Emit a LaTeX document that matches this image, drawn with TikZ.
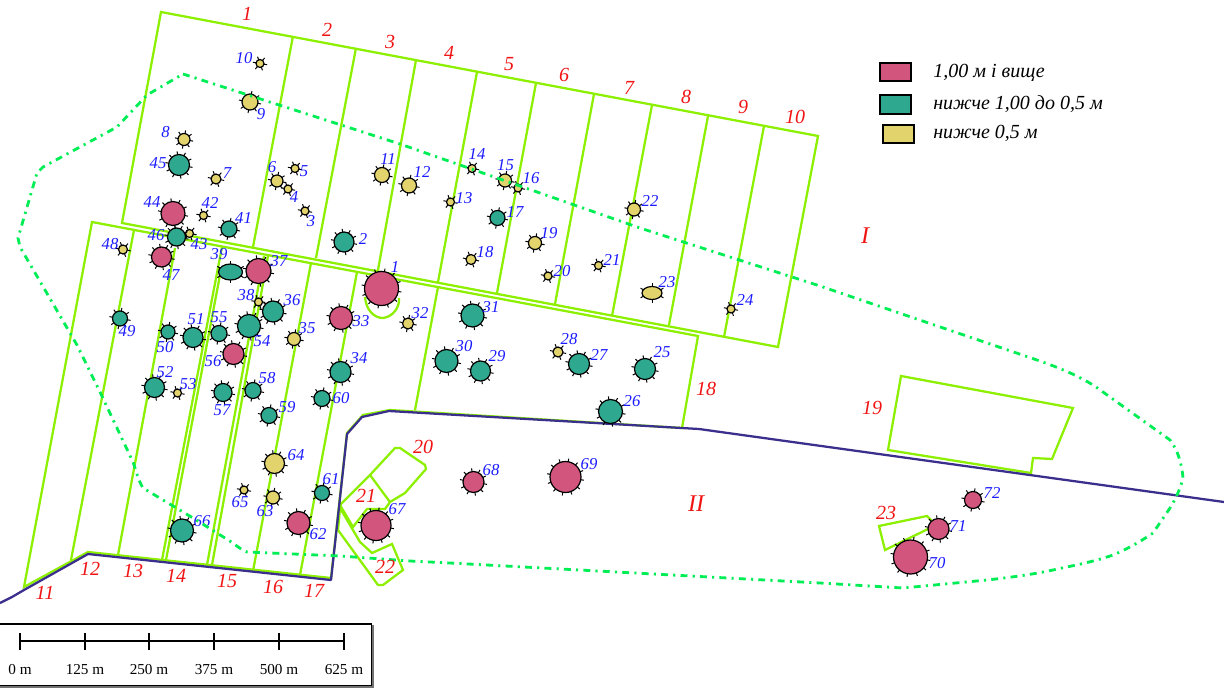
\documentclass[tikz,border=0pt]{standalone}
\usepackage{fontspec}
\setmainfont{Liberation Serif}
\usetikzlibrary{shapes.geometric}
\definecolor{pinkT}{HTML}{D1557D}
\definecolor{tealT}{HTML}{2EA88E}
\definecolor{yelT}{HTML}{E3D36C}
\definecolor{fieldG}{HTML}{8CF000}
\definecolor{bndG}{HTML}{00EE55}
\definecolor{roadB}{HTML}{3A2F8C}
\definecolor{lblB}{HTML}{1A1AFF}
\definecolor{lblR}{HTML}{F01414}
\tikzset{
  x=0.75pt,y=-0.75pt,
  fieldline/.style={draw=fieldG,line width=1.7pt,line join=miter},
  boundary/.style={draw=bndG,line width=2.1pt,dash pattern=on 5.2pt off 3.9pt on 1.6pt off 3.9pt},
  road/.style={draw=roadB,line width=1.7pt,line join=round},
  treemark/.style={circle,draw=black,line width=0.9pt,inner sep=0pt,outer sep=0pt},
  ovalmark/.style={ellipse,draw=black,line width=0.9pt,inner sep=0pt,outer sep=0pt},
  tick/.style={draw=black,line width=0.75pt},
  numlabel/.style={text=lblB,font=\itshape\fontsize{12.5}{13}\selectfont,inner sep=0pt},
  fieldlabel/.style={text=lblR,font=\itshape\fontsize{15}{15}\selectfont,inner sep=0pt},
  legendbox/.style={draw=black,line width=1pt,anchor=north west,inner sep=0pt,outer sep=0pt},
  legendtext/.style={anchor=west,inner sep=0pt,font=\itshape\fontsize{15}{15}\selectfont},
  scalelabel/.style={font=\fontsize{11.4}{12}\selectfont,inner sep=0pt},
}
\newcommand\tickset[3]{% x y r
  \pgfmathsetmacro\tkstep{#3<5.5?60:(#3<9?45:(#3<13?36:30))}
  \pgfmathsetmacro\tksecond{\tkstep+10}
  \foreach \a in {10,\tksecond,...,369}{
    \draw[tick] (#1,#2) ++(\a:#3) -- ++(\a:3.2);
  }
}
\newcommand\treeM[7]{% num x y r colour lx ly
  \tickset{#2}{#3}{#4}
  \pgfmathsetlengthmacro\tkd{1.5pt*#4}
  \node[treemark,fill=#5,minimum size=\tkd] (t#1) at (#2,#3) {};
  \node[numlabel] (n#1) at (#6,#7) {#1};
}
\newcommand\ovalM[8]{% num x y rx ry colour lx ly
  \foreach \a in {30,90,...,389}{
    \draw[tick] (#2,#3) ++(\a:#4 and #5) -- ++(\a:3.2);
  }
  \pgfmathsetlengthmacro\tkw{1.5pt*#4}
  \pgfmathsetlengthmacro\tkh{1.5pt*#5}
  \node[ovalmark,fill=#6,minimum width=\tkw,minimum height=\tkh] (t#1) at (#2,#3) {};
  \node[numlabel] (n#1) at (#7,#8) {#1};
}
\begin{document}
\begin{tikzpicture}
\useasboundingbox[fill=white] (0,0) rectangle (1224,688);
% upper block
\draw[fieldline] (161,12) -- (818,136) -- (778,347) -- (122,223) -- cycle;
\foreach \xa/\ya/\xb/\yb in {293/36/253/247,356/48/316/258,416/60/378/270,477/72/438/282,536/83/497/293,594/94/555/304,652/105/612/316,708/116/669/325,764/126/724/337}{
  \draw[fieldline] (\xa,\ya) -- (\xb,\yb);
}
% lower block
\draw[fieldline] (347,433) -- (363,415) -- (390,410) -- (682,428) -- (698,336) -- (92,222) -- (24,587) -- (88,552) -- (331,578) -- cycle;
\foreach \xa/\ya/\xb/\yb in {134/230/71/560,175/248/118/555,222/247/162/560,220/275/166/560,264/256/207/565,268/256/212/565,311/263/253/571,357/272/300/575,438/287/415/410}{
  \draw[fieldline] (\xa,\ya) -- (\xb,\yb);
}
% small plots
\draw[fieldline] (888,450) -- (901,376) -- (1073,408) -- (1052,459) -- (1033,458) -- (1031,473) -- cycle;
\draw[fieldline] (879,526) -- (927,516) -- (934,523) -- (928,529) -- (885,550) -- cycle;
\draw[fieldline] (340,505) -- (370,475) -- (395,448) -- (400,448) -- (425,465) -- (426,469) -- (405,493) -- (390,502) -- (385,509) -- (367,509) -- (353,527) -- cycle;
\draw[fieldline] (370,475) -- (390,502);
\draw[fieldline] (340,508) -- (360,542) -- (372,553) -- (392,544) -- (403,570) -- (383,585) -- (378,585) -- (338,530) -- (340,508);
\draw[fieldline] (365,297) .. controls (366,310) and (374,318) .. (383,318) .. controls (392,317) and (400,308) .. (399,298);
% road
\draw[road] (0,603) -- (12,597) -- (24,590) -- (88,554) -- (331,580) -- (347,434) -- (362,417) -- (389,411) -- (699,429) -- (1224,502);
% trees
\treeM{1}{381.5}{288.5}{17}{pinkT}{395}{267}
\treeM{2}{344}{242}{10}{tealT}{363}{239}
\treeM{3}{305}{211}{4}{yelT}{311}{221}
\treeM{4}{288}{189}{4}{yelT}{294}{197}
\treeM{5}{295}{168.5}{4}{yelT}{304}{171}
\treeM{6}{277}{181}{6}{yelT}{272}{167}
\treeM{7}{216}{179}{5}{yelT}{227}{173}
\treeM{8}{184}{139.5}{6}{yelT}{165.5}{132}
\treeM{9}{250}{102}{8}{yelT}{261}{114}
\treeM{10}{260}{63.5}{4}{yelT}{244}{58}
\treeM{11}{382}{175}{7.5}{yelT}{388}{159}
\treeM{12}{409}{185.5}{7.5}{yelT}{422}{172}
\treeM{13}{450.5}{202}{4}{yelT}{464}{198}
\treeM{14}{472}{168.5}{4}{yelT}{477}{154}
\treeM{15}{505}{180.5}{6.5}{yelT}{505.5}{165}
\treeM{16}{518}{188}{4}{yelT}{531}{178}
\treeM{17}{497.5}{218}{7.5}{tealT}{515}{212}
\treeM{18}{471}{259.5}{5}{yelT}{485}{252}
\treeM{19}{535}{243}{6.5}{yelT}{549}{233}
\treeM{20}{548}{276}{4}{yelT}{562}{271}
\treeM{21}{598.5}{265.5}{4}{yelT}{612}{260}
\treeM{22}{634}{209.5}{6.5}{yelT}{650}{201}
\ovalM{23}{652}{293}{10}{6.5}{yelT}{667}{282}
\treeM{24}{731}{309}{4}{yelT}{745}{300}
\treeM{25}{645}{369}{10.5}{tealT}{662}{352}
\treeM{26}{610.5}{411.5}{12}{tealT}{632}{401}
\treeM{27}{579}{364}{10.5}{tealT}{599}{355}
\treeM{28}{558}{352}{5}{yelT}{569}{339}
\treeM{29}{480.5}{371}{10}{tealT}{497}{356}
\treeM{30}{446.5}{361}{11.5}{tealT}{464}{346}
\treeM{31}{472.5}{315.5}{11.5}{tealT}{491}{307}
\treeM{32}{408}{323.5}{5.5}{yelT}{420}{313}
\treeM{33}{341}{318}{11.5}{pinkT}{361}{321}
\treeM{34}{340.5}{372}{10.5}{tealT}{359}{358}
\treeM{35}{294}{339}{6.5}{yelT}{307}{328}
\treeM{36}{273}{311.5}{10.5}{tealT}{292}{300}
\treeM{37}{258.5}{271}{12.5}{pinkT}{279}{261}
\treeM{38}{258.5}{302}{4}{yelT}{246}{295}
\ovalM{39}{230.5}{272}{12}{8}{tealT}{219}{254}
\treeM{41}{229}{229}{8}{tealT}{243.5}{218}
\treeM{42}{203.5}{215.5}{4}{yelT}{210}{203}
\treeM{43}{189.5}{233.5}{4}{yelT}{199}{244}
\treeM{44}{173}{213.5}{12}{pinkT}{152}{202}
\treeM{45}{179}{165}{10.5}{tealT}{158}{163}
\treeM{46}{176.5}{237}{9}{tealT}{156}{235}
\treeM{47}{161.5}{257}{10}{pinkT}{171}{275}
\treeM{48}{123}{249.5}{4.5}{yelT}{110}{244}
\treeM{49}{120}{318.5}{7.5}{tealT}{127}{331}
\treeM{50}{168}{332}{7}{tealT}{165}{347}
\treeM{51}{193}{337.5}{10}{tealT}{196}{319}
\treeM{52}{154.5}{387.5}{10}{tealT}{165}{372}
\treeM{53}{177.5}{393}{4}{yelT}{188}{384}
\treeM{54}{249}{326}{11.5}{tealT}{262}{341}
\treeM{55}{219}{333.5}{8}{tealT}{219}{317}
\treeM{56}{233.5}{354}{10.5}{pinkT}{213}{361}
\treeM{57}{223}{392.5}{9}{tealT}{222}{410}
\treeM{58}{253}{390.5}{8}{tealT}{267}{378}
\treeM{59}{269}{415.5}{8}{tealT}{287}{407}
\treeM{60}{322}{398.5}{8}{tealT}{341}{398}
\treeM{61}{322}{493}{7.5}{tealT}{331}{479}
\treeM{62}{298.5}{523}{11.5}{pinkT}{318}{534}
\treeM{63}{273}{497.5}{6.5}{yelT}{265}{511}
\treeM{64}{274.5}{463.5}{10}{yelT}{296}{455}
\treeM{65}{244}{490}{4}{yelT}{240}{502}
\treeM{66}{182}{530.5}{11.5}{tealT}{202}{521}
\treeM{67}{376}{525.5}{15}{pinkT}{397}{509}
\treeM{68}{473.5}{482}{10.5}{pinkT}{491}{470}
\treeM{69}{565.5}{477}{15.5}{pinkT}{589}{464}
\treeM{70}{910.5}{557}{17}{pinkT}{937}{563}
\treeM{71}{938.5}{529}{10.5}{pinkT}{958}{526}
\treeM{72}{973}{500}{8.5}{pinkT}{992}{493}
% boundary
\draw[boundary] (183,74) -- (400,144) -- (640,228) -- (820,286) -- (1037,360)
  .. controls (1060,368) and (1085,378) .. (1103,392) -- (1170,440)
  .. controls (1178,450) and (1182,465) .. (1183,478)
  .. controls (1180,490) and (1175,500) .. (1170,508) -- (1153,533)
  .. controls (1140,542) and (1125,550) .. (1113,555)
  .. controls (1090,563) and (1070,566) .. (1053,570)
  .. controls (1030,575) and (1005,578) .. (987,580) -- (903,588)
  -- (820,583) -- (450,563) -- (410,561) -- (340,556) -- (247,552)
  .. controls (240,549) and (237,546) .. (233,543) -- (193,518) -- (143,488)
  .. controls (138,480) and (136,470) .. (133,462) -- (100,392) -- (77,345)
  -- (20,247) -- (18,238) -- (37,173) -- (43,167) -- (117,127) -- (147,95) -- cycle;
% field labels
\foreach \t/\px/\py in {1/247/14,2/327/30,3/390/42,4/449/53,5/509/64,6/564/75,7/629/88,8/686/97,9/743/107,10/795/117,11/45/593,12/90/569,13/133/571,14/176/576,15/227/581,16/273/587,17/314/591,18/706/389,19/872/408,20/423/447,21/366/496,22/385/567,23/886/513}{
  \node[fieldlabel] (f\t) at (\px,\py) {\t};
}
\node[fieldlabel,font=\itshape\fontsize{18}{18}\selectfont] (zoneI) at (865,236) {I};
\node[fieldlabel,font=\itshape\fontsize{18}{18}\selectfont] (zoneII) at (696,504) {II};
% legend
\node[legendbox,fill=pinkT,minimum width=23.25pt,minimum height=13.5pt] (lgA) at (880,63) {};
\node[legendbox,fill=tealT,minimum width=23.25pt,minimum height=14.25pt] (lgB) at (880,95) {};
\node[legendbox,fill=yelT,minimum width=23.25pt,minimum height=13.5pt] (lgC) at (883,125) {};
\node[legendtext] (ltA) at (933,73) {1,00 м і вище};
\node[legendtext] (ltB) at (933,104) {нижче 1,00 до 0,5 м};
\node[legendtext] (ltC) at (933,133) {нижче 0,5 м};
% scale bar
\draw[black!55,line width=1.2pt] (-3,687) -- (373,687) -- (373,625);
\draw[black,line width=0.8pt] (-3,685.5) -- (371.5,685.5) -- (371.5,624) -- (-3,624);
\draw[black,line width=1.5pt] (20,641) -- (344,641);
\foreach \tx/\tl in {20/0,85/125,149/250,214/375,279/500,344/625}{
  \draw[black,line width=1.4pt] (\tx,633) -- (\tx,650);
  \node[scalelabel] (s\tl) at (\tx,670) {\tl\ m};
}
\end{tikzpicture}
\end{document}
